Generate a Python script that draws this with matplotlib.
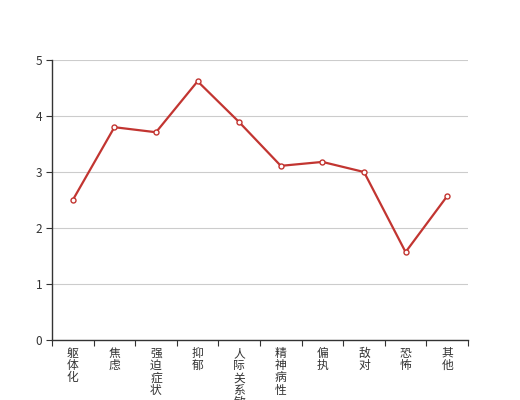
import matplotlib
matplotlib.use("Agg")
import matplotlib.pyplot as plt
import numpy as np

plt.rcParams['font.family'] = ['Noto Sans CJK SC', 'DejaVu Sans']

# 因子名称和得分
categories = ["躯体化", "焦虑", "强迫症状", "抑郁", "人际关系敏感",
              "精神病性", "偏执", "敌对", "恐怖", "其他"]
scores = [2.5, 3.8, 3.71, 4.62, 3.89, 3.11, 3.18, 3.0, 1.57, 2.57]
y_ticks = [0, 1, 2, 3, 4, 5]

fig = plt.figure(figsize=(5.2, 4.0), dpi=100)
ax = fig.add_axes([0.1, 0.15, 0.8, 0.7])

x = np.arange(len(categories))
ax.plot(x, scores, color="#c23531", linewidth=1.6, zorder=3)
ax.plot(x, scores, linestyle="none", marker="o", markersize=3.6,
        markerfacecolor="white", markeredgecolor="#c23531",
        markeredgewidth=1.0, zorder=4)

ax.set_xlim(-0.5, len(categories) - 0.5)
ax.set_ylim(0, 5)
ax.set_yticks(y_ticks)
ax.yaxis.grid(True, color="#cccccc", linewidth=0.8)
ax.set_axisbelow(True)

# 刻度在类目边界，标签在中间（竖排）
ax.set_xticks(np.arange(len(categories) + 1) - 0.5)
ax.set_xticklabels([])
ax.set_xticks(x, minor=True)
ax.set_xticklabels(["\n".join(c) for c in categories], minor=True,
                   fontsize=8.5, color="#333333", va="top", linespacing=0.92)
ax.tick_params(axis="x", which="minor", length=0, pad=5)
ax.tick_params(axis="x", which="major", length=4, color="#333333", direction="out")
ax.tick_params(axis="y", length=4, color="#333333", labelsize=8.5,
               labelcolor="#333333", pad=3)

for side in ["top", "right"]:
    ax.spines[side].set_visible(False)
for side in ["left", "bottom"]:
    ax.spines[side].set_color("#333333")
    ax.spines[side].set_linewidth(1.0)

fig.savefig("out.png", dpi=100)
plt.close(fig)
